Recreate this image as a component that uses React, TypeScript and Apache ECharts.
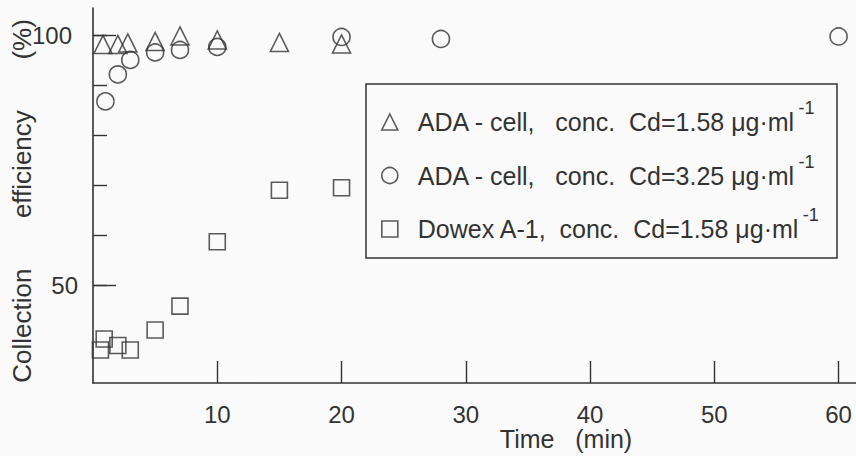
import React, { useEffect, useRef } from "react";
import * as echarts from "echarts";

// ---- data ----
const triTime = [0.8, 2, 2.8, 5, 7, 10, 15, 20];
const triEff = [98.2, 98.2, 98.5, 98.8, 99.9, 99.1, 98.6, 98.3];

const cirTime = [1, 2, 3, 5, 7, 10, 20, 28, 60];
const cirEff = [86.8, 92.2, 95.1, 96.6, 97.1, 97.7, 99.7, 99.3, 99.8];

const sqTime = [0.6, 0.9, 2, 3, 5, 7, 10, 15, 20];
const sqEff = [37.0, 39.2, 37.9, 37.0, 41.0, 45.8, 58.7, 69.0, 69.5];

const seriesNames = [
  "ADA - cell,   conc.  Cd=1.58 μg·ml",
  "ADA - cell,   conc.  Cd=3.25 μg·ml",
  "Dowex A-1,  conc.  Cd=1.58 μg·ml",
];
const superscript = "-1";

const xTickValues = [10, 20, 30, 40, 50, 60];
const yMinorTickValues = [50, 60, 70, 80, 90, 100];
const yMajorTickValues = [50, 100];
const yLowLabel = [50];
const yHighLabel = [100];

const xTitle = "Time   (min)";
const yTitle = "Collection       efficiency       (%)";

const INK = "#333333";
const BG = "#fafafa";
const FONT = "'Liberation Sans', Arial, sans-serif";

const zip = (a: number[], b: number[]) => a.map((v, i) => [v, b[i]]);

export default function App() {
  const ref = useRef<HTMLDivElement>(null);
  useEffect(() => {
    document.body.style.margin = "0";
    const chart = echarts.init(ref.current!, null, { renderer: "svg" });
    const hollow = { color: "transparent", borderColor: INK, borderWidth: 1.6 };
    const option: any = {
      animation: false,
      backgroundColor: BG,
      textStyle: { fontFamily: FONT, color: INK },
      grid: { left: 93, right: 0, top: 8, bottom: 73, containLabel: false },
      xAxis: {
        type: "value",
        min: 0,
        max: 61.4,
        axisLine: { show: true, onZero: false, lineStyle: { color: INK, width: 1.6 } },
        axisTick: { show: true, inside: true, length: 22, customValues: xTickValues, lineStyle: { color: INK, width: 1.4 } },
        axisLabel: { show: true, customValues: xTickValues, margin: 19, fontSize: 24, color: INK, fontFamily: FONT },
        splitLine: { show: false },
      },
      yAxis: [
        {
          type: "value",
          position: "left",
          min: 30.4,
          max: 105.5,
          axisLine: { show: true, onZero: false, lineStyle: { color: INK, width: 1.6 } },
          axisTick: { show: true, inside: true, length: 14, customValues: yMinorTickValues, lineStyle: { color: INK, width: 1.4 } },
          axisLabel: { show: true, customValues: yLowLabel, margin: 15, fontSize: 24, color: INK, fontFamily: FONT },
          splitLine: { show: false },
        },
        {
          type: "value",
          position: "left",
          offset: 0,
          min: 30.4,
          max: 105.5,
          alignTicks: false,
          axisLine: { show: false },
          axisTick: { show: true, inside: true, length: 23, customValues: yMajorTickValues, lineStyle: { color: INK, width: 1.4 } },
          axisLabel: { show: true, customValues: yHighLabel, margin: 21, fontSize: 24, color: INK, fontFamily: FONT },
          splitLine: { show: false },
        },
      ],
      legend: {
        show: true,
        orient: "vertical",
        left: 381,
        top: 99,
        padding: 0,
        itemGap: 18,
        itemWidth: 16,
        itemHeight: 16,
        selectedMode: false,
        data: [
          { name: seriesNames[0], icon: "triangle", itemStyle: hollow },
          { name: seriesNames[1], icon: "circle", itemStyle: hollow },
          { name: seriesNames[2], icon: "rect", itemStyle: hollow },
        ],
        formatter: (name: string) => `{t|${name}}{s|${superscript}}`,
        textStyle: {
          color: INK,
          fontFamily: FONT,
          rich: {
            t: { fontSize: 25, lineHeight: 46, color: INK, fontFamily: FONT, padding: [0, 0, 0, 15] },
            s: { fontSize: 18, lineHeight: 18, verticalAlign: "top", color: INK, fontFamily: FONT, padding: [0, 0, 0, 3] },
          },
        },
      },
      graphic: [
        {
          type: "rect",
          shape: { x: 366, y: 84, width: 471, height: 174 },
          style: { fill: "none", stroke: INK, lineWidth: 1.5 },
          z: 1,
        },
        {
          type: "text",
          x: 566,
          y: 439,
          style: { text: xTitle, font: `25px ${FONT}`, fill: INK, align: "center", verticalAlign: "middle" },
        },
        {
          type: "text",
          x: 22,
          y: 201,
          rotation: Math.PI / 2,
          style: { text: yTitle, font: `26px ${FONT}`, fill: INK, align: "center", verticalAlign: "middle" },
        },
      ],
      series: [
        {
          name: seriesNames[0],
          type: "scatter",
          symbol: "triangle",
          symbolSize: 18,
          itemStyle: hollow,
          data: zip(triTime, triEff),
          clip: false,
        },
        {
          name: seriesNames[1],
          type: "scatter",
          symbol: "circle",
          symbolSize: 17,
          itemStyle: hollow,
          data: zip(cirTime, cirEff),
          clip: false,
        },
        {
          name: seriesNames[2],
          type: "scatter",
          symbol: "rect",
          symbolSize: 16,
          itemStyle: hollow,
          data: zip(sqTime, sqEff),
          clip: false,
        },
      ],
    };
    chart.setOption(option);
    return () => chart.dispose();
  }, []);
  return (
    <div
      ref={ref}
      style={{ position: "fixed", left: 0, top: 0, width: 856, height: 456, background: BG }}
    />
  );
}
